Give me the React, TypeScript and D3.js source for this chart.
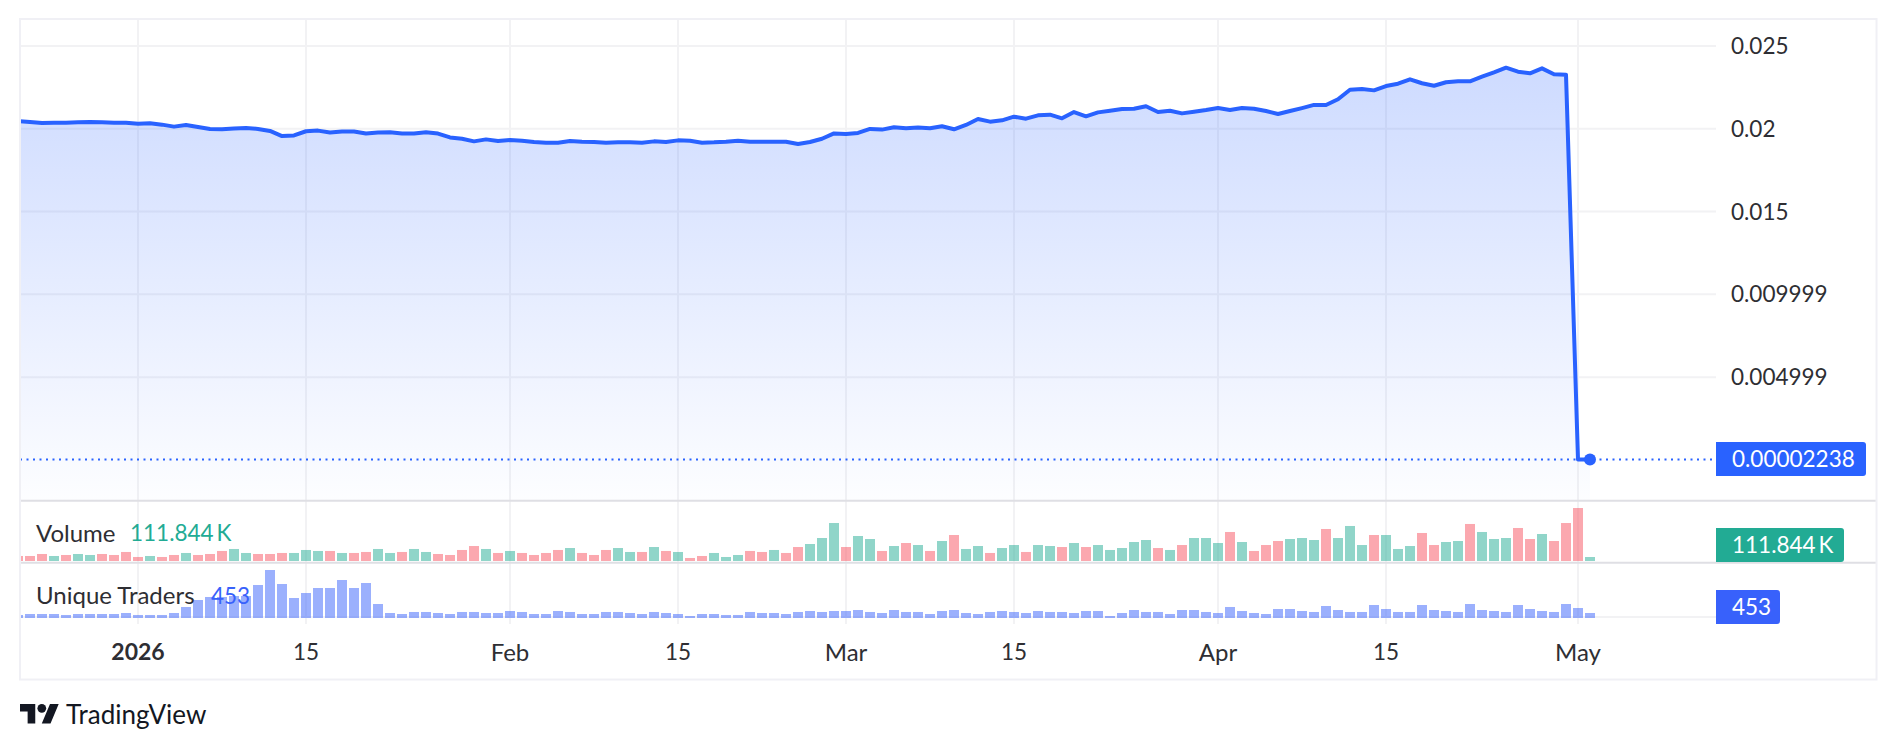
import * as d3 from 'd3';
import {useMemo} from 'react';

const WIDTH = 1896;
const HEIGHT = 750;
const FONT = 'Lato, "Noto Sans", sans-serif';

const LINE_COLOR = '#2962ff';
const TRADERS_COLOR = '#3861fb';
const UP_COLOR = '#22ab94';
const DOWN_COLOR = '#f7525f';
const GRID_COLOR = '#f2f2f4';
const FRAME_COLOR = '#f0f0f5';
const SEPARATOR_COLOR = '#dfdfe4';
const TEXT_COLOR = '#2e2e33';

// first bar of the series, one bar per day
const START_DATE = new Date(Date.UTC(2025, 11, 22));

const priceValues = [
  0.02047, 0.02041, 0.02035, 0.02037, 0.02037, 0.02039, 0.02041, 0.02039, 0.02037, 0.02037,
  0.02031, 0.02033, 0.02025, 0.02013, 0.02023, 0.02011, 0.01999, 0.01997, 0.02001, 0.02005,
  0.01999, 0.01987, 0.01956, 0.0196, 0.01985, 0.01989, 0.01977, 0.01983, 0.01983, 0.01971,
  0.01977, 0.01979, 0.01971, 0.01971, 0.01979, 0.01971, 0.01948, 0.0194, 0.01924, 0.01936,
  0.01926, 0.01932, 0.01928, 0.0192, 0.01916, 0.01916, 0.01926, 0.01922, 0.0192, 0.01916,
  0.01918, 0.01918, 0.01916, 0.01924, 0.0192, 0.0193, 0.01928, 0.01916, 0.01918, 0.01922,
  0.01928, 0.01922, 0.01922, 0.01922, 0.01922, 0.01908, 0.0192, 0.0194, 0.01972, 0.01968,
  0.01975, 0.01999, 0.01995, 0.02009, 0.02003, 0.02007, 0.02003, 0.02015, 0.01997, 0.02023,
  0.02059, 0.02043, 0.02051, 0.02073, 0.02061, 0.02081, 0.02085, 0.02063, 0.02101, 0.02075,
  0.02099, 0.02109, 0.02119, 0.02121, 0.02136, 0.02101, 0.02109, 0.02093, 0.02103, 0.02113,
  0.02125, 0.02113, 0.02125, 0.02121, 0.02107, 0.02089, 0.02107, 0.02125, 0.02144, 0.02144,
  0.02178, 0.02236, 0.0224, 0.02232, 0.02258, 0.02272, 0.02299, 0.02275, 0.0226, 0.02281,
  0.02287, 0.02287, 0.02315, 0.02341, 0.02369, 0.02345, 0.02335, 0.02365, 0.02329, 0.02327,
  0.00002238, 0.00002238,
];

// volume in thousands
const volumeValues = [
  140, 140, 196, 140, 168, 196, 168, 196, 168, 252,
  112, 140, 112, 168, 224, 168, 196, 280, 336, 224,
  196, 196, 224, 224, 308, 280, 280, 224, 224, 252,
  336, 224, 252, 336, 252, 196, 168, 308, 419, 336,
  224, 280, 224, 168, 224, 308, 363, 224, 168, 308,
  363, 252, 252, 391, 280, 252, 84, 140, 224, 112,
  168, 280, 252, 308, 224, 391, 475, 643, 1062, 391,
  699, 615, 280, 419, 503, 447, 280, 559, 727, 336,
  419, 224, 363, 447, 252, 447, 419, 391, 503, 391,
  447, 308, 363, 531, 587, 363, 308, 447, 643, 643,
  503, 811, 531, 280, 447, 559, 615, 643, 587, 895,
  643, 979, 447, 727, 727, 336, 419, 783, 447, 531,
  559, 1035, 811, 615, 643, 923, 615, 755, 559, 1062,
  1482, 111.844,
];

const volumeSides = [
  'r', 'r', 'r', 'g', 'r', 'g', 'g', 'r', 'r', 'r',
  'r', 'g', 'r', 'r', 'g', 'r', 'r', 'r', 'g', 'g',
  'r', 'r', 'r', 'g', 'g', 'g', 'r', 'g', 'r', 'r',
  'g', 'g', 'r', 'g', 'g', 'r', 'r', 'r', 'r', 'g',
  'r', 'g', 'r', 'r', 'r', 'r', 'g', 'r', 'r', 'r',
  'g', 'g', 'r', 'g', 'r', 'g', 'r', 'r', 'g', 'g',
  'g', 'r', 'r', 'g', 'r', 'r', 'g', 'g', 'g', 'r',
  'g', 'g', 'r', 'g', 'r', 'g', 'r', 'g', 'r', 'g',
  'g', 'r', 'g', 'g', 'r', 'g', 'g', 'r', 'g', 'r',
  'g', 'g', 'g', 'g', 'g', 'r', 'g', 'r', 'g', 'g',
  'g', 'r', 'g', 'r', 'r', 'r', 'g', 'g', 'g', 'r',
  'g', 'g', 'g', 'r', 'g', 'g', 'g', 'r', 'r', 'g',
  'g', 'r', 'g', 'g', 'g', 'r', 'r', 'g', 'r', 'r',
  'r', 'g',
];

const traderValues = [
  272, 362, 362, 362, 272, 362, 362, 362, 362, 453,
  272, 272, 272, 453, 997, 1631, 1903, 1903, 1993, 1993,
  2990, 4349, 3080, 1812, 2265, 2718, 2718, 3443, 2718, 3171,
  1268, 453, 362, 544, 544, 453, 362, 544, 544, 453,
  453, 634, 544, 362, 362, 634, 544, 362, 362, 544,
  544, 453, 362, 544, 453, 362, 181, 362, 362, 272,
  272, 544, 453, 453, 362, 544, 634, 544, 634, 634,
  725, 544, 453, 725, 544, 544, 362, 634, 725, 453,
  362, 544, 634, 544, 453, 634, 544, 544, 453, 634,
  634, 181, 453, 725, 544, 544, 362, 725, 725, 544,
  453, 997, 634, 453, 362, 815, 815, 634, 544, 1087,
  725, 544, 544, 1178, 815, 544, 544, 1178, 725, 634,
  544, 1268, 725, 634, 544, 1178, 815, 634, 544, 1268,
  906, 453,
];

const priceTicks = [0.025, 0.02, 0.015, 0.009999, 0.004999];
const priceTickLabels = ['0.025', '0.02', '0.015', '0.009999', '0.004999'];

const timeTicks = [
  new Date(Date.UTC(2026, 0, 1)),
  new Date(Date.UTC(2026, 0, 15)),
  new Date(Date.UTC(2026, 1, 1)),
  new Date(Date.UTC(2026, 1, 15)),
  new Date(Date.UTC(2026, 2, 1)),
  new Date(Date.UTC(2026, 2, 15)),
  new Date(Date.UTC(2026, 3, 1)),
  new Date(Date.UTC(2026, 3, 15)),
  new Date(Date.UTC(2026, 4, 1)),
];
const timeTickLabels = ['2026', '15', 'Feb', '15', 'Mar', '15', 'Apr', '15', 'May'];

const LAST_PRICE = '0.00002238';
const LAST_VOLUME = '111.844\u2009K';
const LAST_TRADERS = '453';

const frame = {left: 20, right: 1876.5, top: 19, bottom: 679.5};
const plotRight = 1716;
const priceBottom = 500;
const volumeBottom = 562;
const traderBottom = 624;

function AxisTag({y, width, label, fill}: {y: number; width: number; label: string; fill: string}) {
  const h = 34;
  const x = plotRight;
  const d = `M${x},${y - h / 2}h${width - 3}a3,3 0 0 1 3,3v${h - 6}a3,3 0 0 1 -3,3h${-(width - 3)}z`;
  return (
    <g>
      <path d={d} fill={fill} />
      <text x={x + 16} y={y} dy="0.36em" fontSize={22.5} fill="#fff">{label}</text>
    </g>
  );
}

export default function App() {
  const dates = useMemo(() => priceValues.map((_, i) => d3.utcDay.offset(START_DATE, i)), []);

  const x = useMemo(
    () => d3.scaleUtc().domain([timeTicks[0], timeTicks[8]]).range([138, 1578]),
    [],
  );
  const yPrice = useMemo(() => d3.scaleLinear().domain([0, 0.025]).range([459.9, 46]), []);
  const yVolume = useMemo(() => d3.scaleLinear().domain([0, 1482]).range([561, 508]), []);
  const yTraders = useMemo(() => d3.scaleLinear().domain([0, 4349]).range([618, 570]), []);

  const series = useMemo(() => priceValues.map((v, i) => ({date: dates[i], v})), [dates]);

  const linePath = useMemo(
    () => d3.line<{date: Date; v: number}>().x((d) => x(d.date)).y((d) => yPrice(d.v)).curve(d3.curveLinear)(series),
    [series, x, yPrice],
  );
  const areaPath = useMemo(
    () =>
      d3
        .area<{date: Date; v: number}>()
        .x((d) => x(d.date))
        .y0(priceBottom)
        .y1((d) => yPrice(d.v))
        .curve(d3.curveLinear)(series),
    [series, x, yPrice],
  );

  const barW = 10;
  const lastDate = dates[dates.length - 1];
  const lastPriceY = yPrice(priceValues[priceValues.length - 1]);
  const topY = yPrice(d3.max(priceValues)!);

  return (
    <svg
      width={WIDTH}
      height={HEIGHT}
      viewBox={`0 0 ${WIDTH} ${HEIGHT}`}
      style={{position: 'absolute', left: 0, top: 0, background: '#fff'}}
      fontFamily={FONT}
    >
      <defs>
        <linearGradient id="priceFill" gradientUnits="userSpaceOnUse" x1="0" x2="0" y1={topY} y2={priceBottom}>
          <stop offset="0" stopColor={LINE_COLOR} stopOpacity={0.23} />
          <stop offset="1" stopColor={LINE_COLOR} stopOpacity={0.01} />
        </linearGradient>
        <clipPath id="plotClip">
          <rect x={frame.left} y={frame.top} width={plotRight - frame.left} height={traderBottom - frame.top} />
        </clipPath>
      </defs>

      <g stroke={GRID_COLOR} strokeWidth={2}>
        {priceTicks.map((t) => (
          <line key={t} x1={frame.left} x2={plotRight} y1={yPrice(t)} y2={yPrice(t)} />
        ))}
        {timeTicks.map((t) => (
          <line key={t.getTime()} x1={x(t)} x2={x(t)} y1={frame.top} y2={traderBottom} />
        ))}
        <line x1={frame.left} x2={plotRight} y1={617} y2={617} />
      </g>

      <g clipPath="url(#plotClip)">
        <path d={areaPath!} fill="url(#priceFill)" />
        <line
          x1={frame.left}
          x2={plotRight}
          y1={lastPriceY}
          y2={lastPriceY}
          stroke={LINE_COLOR}
          strokeWidth={2}
          strokeDasharray="2 4.5"
        />
        <path d={linePath!} fill="none" stroke={LINE_COLOR} strokeWidth={4} strokeLinejoin="round" />
        <circle cx={x(lastDate)} cy={lastPriceY} r={6} fill={LINE_COLOR} />

        {volumeValues.map((v, i) => (
          <rect
            key={i}
            x={x(dates[i]) - barW / 2}
            y={yVolume(v)}
            width={barW}
            height={yVolume(0) - yVolume(v)}
            fill={volumeSides[i] === 'g' ? UP_COLOR : DOWN_COLOR}
            fillOpacity={0.5}
          />
        ))}
        {traderValues.map((v, i) => (
          <rect
            key={i}
            x={x(dates[i]) - barW / 2}
            y={yTraders(v)}
            width={barW}
            height={yTraders(0) - yTraders(v)}
            fill={TRADERS_COLOR}
            fillOpacity={0.5}
          />
        ))}
      </g>

      <g stroke={SEPARATOR_COLOR} strokeWidth={2}>
        <line x1={frame.left} x2={frame.right} y1={priceBottom + 0.7} y2={priceBottom + 0.7} />
        <line x1={frame.left} x2={frame.right} y1={volumeBottom + 0.7} y2={volumeBottom + 0.7} />
      </g>
      <rect
        x={frame.left}
        y={frame.top}
        width={frame.right - frame.left}
        height={frame.bottom - frame.top}
        fill="none"
        stroke={FRAME_COLOR}
        strokeWidth={2}
      />

      <g fontSize={22.5} fill={TEXT_COLOR}>
        {priceTicks.map((t, i) => (
          <text key={t} x={1731} y={yPrice(t)} dy="0.36em">{priceTickLabels[i]}</text>
        ))}
      </g>
      <g fill={TEXT_COLOR}>
        {timeTicks.map((t, i) => (
          <text
            key={t.getTime()}
            x={x(t)}
            y={652}
            dy="0.36em"
            textAnchor="middle"
            fontSize={i === 0 ? 23 : timeTickLabels[i] === '15' ? 22.5 : 24}
            fontWeight={i === 0 ? 700 : 400}
          >
            {timeTickLabels[i]}
          </text>
        ))}
      </g>

      <g fontSize={24}>
        <text x={36} y={533} dy="0.36em" fill={TEXT_COLOR}>Volume</text>
        <text x={130} y={533} dy="0.36em" fontSize={22.5} fill={UP_COLOR}>{LAST_VOLUME}</text>
        <text x={36} y={595.5} dy="0.36em" fill={TEXT_COLOR}>Unique Traders</text>
        <text x={211} y={595.5} dy="0.36em" fontSize={22.5} fill={TRADERS_COLOR}>{LAST_TRADERS}</text>
      </g>

      <AxisTag y={459} width={150} label={LAST_PRICE} fill={LINE_COLOR} />
      <AxisTag y={545} width={128} label={LAST_VOLUME} fill={UP_COLOR} />
      <AxisTag y={607} width={64} label={LAST_TRADERS} fill={TRADERS_COLOR} />

      <g transform="translate(20,699.6) scale(1.09)" fill="#131722">
        <path d="M14 22H7V11H0V4h14v18zM28 22h-8l7.5-18h8L28 22z" />
        <circle cx={20} cy={8} r={4} />
      </g>
      <text x={66} y={714.5} dy="0.36em" fontSize={26} fill="#131722">TradingView</text>
    </svg>
  );
}
